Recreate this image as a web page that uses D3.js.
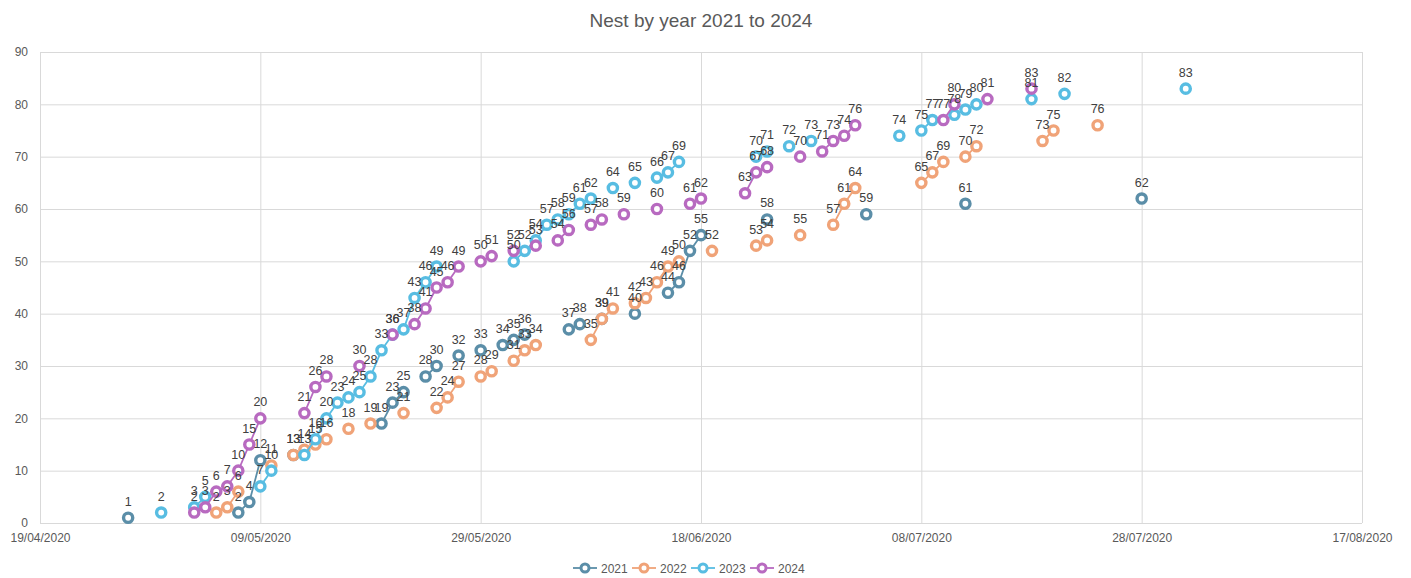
<!DOCTYPE html>
<html>
<head>
<meta charset="utf-8">
<script src="https://cdn.jsdelivr.net/npm/d3@7"></script>
<style>
  body { margin: 0; background: #fff; }
  text { font-family: "Liberation Sans", Arial, sans-serif; }
</style>
</head>
<body>
<div id="chart"></div>
<script>
var years = ["2021", "2022", "2023", "2024"];
var colors = ["#5b8ea8", "#f0a378", "#58bde2", "#b86ac0"];

var dates2021 = ["27/04","07/05","08/05","09/05","12/05","20/05","21/05","22/05","24/05","25/05","27/05","29/05","31/05","01/06","02/06","06/06","07/06","09/06","12/06","15/06","16/06","17/06","18/06","24/06","03/07","12/07","28/07"];
var values2021 = [1,2,4,12,13,19,23,25,28,30,32,33,34,35,36,37,38,39,40,44,46,52,55,58,59,61,62];

var dates2022 = ["05/05","06/05","07/05","10/05","12/05","13/05","14/05","15/05","17/05","19/05","22/05","25/05","26/05","27/05","29/05","30/05","01/06","02/06","03/06","08/06","09/06","10/06","12/06","13/06","14/06","15/06","16/06","19/06","23/06","24/06","27/06","30/06","01/07","02/07","08/07","09/07","10/07","12/07","13/07","19/07","20/07","24/07"];
var values2022 = [2,3,6,11,13,14,15,16,18,19,21,22,24,27,28,29,31,33,34,35,39,41,42,43,46,49,50,52,53,54,55,57,61,64,65,67,69,70,72,73,75,76];

var dates2023 = ["30/04","03/05","04/05","09/05","10/05","13/05","14/05","15/05","16/05","17/05","18/05","19/05","20/05","21/05","22/05","23/05","24/05","25/05","01/06","02/06","03/06","04/06","05/06","06/06","07/06","08/06","10/06","12/06","14/06","15/06","16/06","23/06","24/06","26/06","28/06","06/07","08/07","09/07","11/07","12/07","13/07","18/07","21/07","01/08"];
var values2023 = [2,3,5,7,10,13,16,20,23,24,25,28,33,36,37,43,46,49,50,52,54,57,58,59,61,62,64,65,66,67,69,70,71,72,73,74,75,77,78,79,80,81,82,83];

var dates2024 = ["03/05","04/05","05/05","06/05","07/05","08/05","09/05","13/05","14/05","15/05","18/05","21/05","23/05","24/05","25/05","26/05","27/05","29/05","30/05","01/06","03/06","05/06","06/06","08/06","09/06","11/06","14/06","17/06","18/06","22/06","23/06","24/06","27/06","29/06","30/06","01/07","02/07","10/07","11/07","14/07","18/07"];
var values2024 = [2,3,6,7,10,15,20,21,26,28,30,36,38,41,45,46,49,50,51,52,53,54,56,57,58,59,60,61,62,63,67,68,70,71,73,74,76,77,80,81,83];

var yTicks = [0,10,20,30,40,50,60,70,80,90];
var xTickLabels = ["19/04/2020","09/05/2020","29/05/2020","18/06/2020","08/07/2020","28/07/2020","17/08/2020"];

var width = 1411;
var height = 578;
var plotLeft = 40, plotRight = 1362, plotTop = 52, plotBottom = 523;

var parseDay = d3.timeParse("%d/%m/%Y");
var fmt = d3.timeFormat("%d/%m/%Y");

var allDates = [dates2021, dates2022, dates2023, dates2024];
var allValues = [values2021, values2022, values2023, values2024];

var series = years.map(function(yr, i) {
  return {
    name: yr,
    color: colors[i],
    points: allDates[i].map(function(d, j) {
      return { date: parseDay(d + "/2020"), value: allValues[i][j] };
    })
  };
});

var x = d3.scaleTime().
  domain([parseDay(xTickLabels[0]), parseDay(xTickLabels[xTickLabels.length - 1])]).
  range([plotLeft, plotRight]);
var y = d3.scaleLinear().
  domain([0, 90]).
  range([plotBottom, plotTop]);

var svg = d3.select("#chart").append("svg").
  attr("width", width).
  attr("height", height);

svg.append("text").
  attr("x", 701).
  attr("y", 27).
  attr("text-anchor", "middle").
  style("font-size", "19px").
  style("fill", "#595959").
  text("Nest by year 2021 to 2024");

// grid
var xTicks = xTickLabels.map(function(t) { return parseDay(t); });

var gx = svg.append("g").
  attr("transform", "translate(0," + plotBottom + ")").
  call(d3.axisBottom(x).tickValues(xTicks).tickSize(-(plotBottom - plotTop)).tickFormat(fmt));
gx.select(".domain").remove();
gx.selectAll("line").style("stroke", "#d9d9d9");
gx.selectAll("text").
  attr("dy", "1.35em").
  style("font-size", "12px").
  style("fill", "#595959");

var gy = svg.append("g").
  attr("transform", "translate(" + plotLeft + ",0)").
  call(d3.axisLeft(y).tickValues(yTicks).tickSize(-(plotRight - plotLeft)).tickPadding(12));
gy.select(".domain").remove();
gy.selectAll("line").style("stroke", "#d9d9d9");
gy.selectAll("text").
  style("font-size", "12px").
  style("fill", "#595959");

var line = d3.line().
  x(function(d) { return x(d.date); }).
  y(function(d) { return y(d.value); });

// days with no entry leave a gap in the line
function segments(points) {
  var out = [];
  var cur = [];
  points.forEach(function(p, i) {
    if (i > 0 && d3.timeDay.count(points[i - 1].date, p.date) !== 1) {
      out.push(cur);
      cur = [];
    }
    cur.push(p);
  });
  out.push(cur);
  return out.filter(function(s) { return s.length > 1; });
}

series.forEach(function(s) {
  var g = svg.append("g");
  g.selectAll("path").
    data(segments(s.points)).
    enter().append("path").
    attr("d", line).
    style("fill", "none").
    style("stroke", s.color).
    style("stroke-width", 1.8);
  g.selectAll("circle").
    data(s.points).
    enter().append("circle").
    attr("cx", function(d) { return x(d.date); }).
    attr("cy", function(d) { return y(d.value); }).
    attr("r", 4.6).
    style("fill", "#fff").
    style("stroke", s.color).
    style("stroke-width", 3.4);
});

series.forEach(function(s) {
  svg.append("g").selectAll("text").
    data(s.points).
    enter().append("text").
    attr("x", function(d) { return x(d.date); }).
    attr("y", function(d) { return y(d.value) - 12; }).
    attr("text-anchor", "middle").
    style("font-size", "12.5px").
    style("fill", "#404040").
    text(function(d) { return d.value; });
});

// legend
var legend = svg.append("g").
  attr("transform", "translate(573,568)");
series.forEach(function(s, i) {
  var item = legend.append("g").attr("transform", "translate(" + (i * 59) + ",0)");
  item.append("line").
    attr("x1", 0).attr("x2", 24).
    style("stroke", s.color).
    style("stroke-width", 1.8);
  item.append("circle").
    attr("cx", 12).
    attr("r", 4).
    style("fill", "#fff").
    style("stroke", s.color).
    style("stroke-width", 3);
  item.append("text").
    attr("x", 28).
    attr("y", 4.5).
    style("font-size", "12px").
    style("fill", "#595959").
    text(s.name);
});
</script>
</body>
</html>
